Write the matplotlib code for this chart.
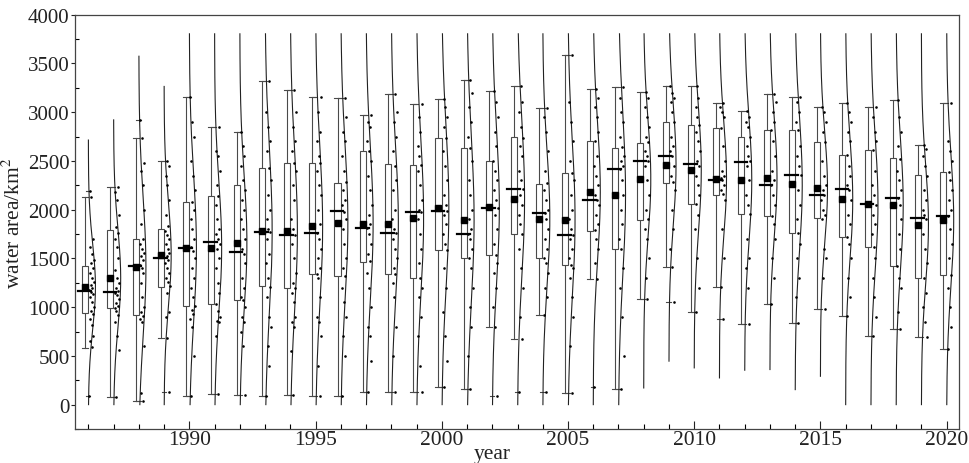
import numpy as np
import matplotlib
matplotlib.use("Agg")
import matplotlib.pyplot as plt
from matplotlib.ticker import MultipleLocator

years = list(range(1986, 2021))

# box statistics
q1 = [938, 996, 920, 1202, 1013, 1030, 1072, 1212, 1192, 1340, 1316, 1467, 1340, 1295, 1587, 1501,
      1536, 1752, 1501, 1432, 1786, 1597, 1897, 2275, 2061, 2154, 1958, 1934, 1762, 1914, 1718,
      1621, 1419, 1298, 1333]
med = [1168, 1158, 1419, 1501, 1604, 1673, 1570, 1769, 1742, 1759, 1982, 1810, 1762, 1976, 1982,
       1752, 2020, 2209, 1965, 1735, 2096, 2422, 2501, 2550, 2467, 2309, 2491, 2257, 2360, 2154,
       2216, 2055, 2123, 1914, 1931]
q3 = [1426, 1793, 1700, 1797, 2079, 2140, 2250, 2429, 2481, 2474, 2278, 2605, 2467, 2457, 2739,
      2629, 2498, 2742, 2268, 2378, 2704, 2635, 2687, 2897, 2869, 2842, 2749, 2818, 2818, 2690,
      2560, 2611, 2525, 2354, 2388]
mean = [1209, 1295, 1408, 1536, 1604, 1611, 1656, 1780, 1780, 1828, 1862, 1855, 1855, 1917, 2017,
        1897, 2024, 2113, 1907, 1897, 2182, 2154, 2312, 2457, 2405, 2312, 2302, 2326, 2261, 2223,
        2106, 2061, 2051, 1845, 1890]
wlo = [584, 75, 41, 687, 92, 109, 102, 85, 102, 85, 85, 127, 127, 127, 181, 161, 800, 670, 917,
       120, 1288, 161, 1082, 1408, 955, 1202, 824, 1030, 841, 979, 910, 704, 773, 697, 566]
whi = [2130, 2233, 2732, 2498, 3151, 2852, 2794, 3323, 3230, 3151, 3144, 2972, 3185, 3086, 3137,
       3333, 3220, 3264, 3048, 3584, 3240, 3257, 3203, 3264, 3271, 3093, 3017, 3185, 3154, 3051,
       3093, 3055, 3127, 2663, 3099]
# extent of the distribution curves
curve_lo = [0] * 22 + [171, 446, 377, 274, 353, 360, 154, 291, 0, 0, 0, 0, 0]
curve_hi = [2714, 2921, 3574, 3264] + [3804] * 31

# individual data points (approximate)
points = [
    [85, 590, 650, 700, 820, 880, 930, 960, 1000, 1050, 1100, 1130, 1160, 1180, 1200, 1230, 1260, 1300, 1350, 1400, 1450, 1480, 1550, 1620, 1700, 2130, 2189],
    [75, 560, 700, 850, 920, 960, 990, 1010, 1040, 1080, 1120, 1150, 1170, 1200, 1250, 1300, 1380, 1500, 1620, 1700, 1760, 1820, 1950, 2100, 2180, 2233],
    [41, 120, 600, 850, 880, 910, 950, 1000, 1100, 1250, 1350, 1400, 1430, 1480, 1520, 1560, 1600, 1650, 1700, 1850, 2000, 2250, 2400, 2480, 2732, 2921],
    [127, 687, 900, 950, 1150, 1220, 1260, 1300, 1350, 1400, 1450, 1480, 1520, 1560, 1600, 1650, 1700, 1740, 1780, 1830, 1950, 2100, 2250, 2350, 2450, 2498],
    [92, 500, 800, 880, 930, 970, 1010, 1100, 1200, 1300, 1400, 1500, 1580, 1620, 1700, 1800, 1900, 2000, 2080, 2200, 2350, 2500, 2750, 2900, 3151],
    [109, 700, 850, 860, 900, 960, 1030, 1150, 1250, 1400, 1500, 1600, 1650, 1700, 1750, 1800, 1900, 2050, 2140, 2250, 2400, 2550, 2600, 2852],
    [102, 600, 750, 850, 900, 1000, 1070, 1100, 1200, 1300, 1450, 1550, 1600, 1700, 1800, 1900, 2000, 2100, 2200, 2300, 2450, 2550, 2650, 2794],
    [85, 400, 600, 800, 900, 1100, 1210, 1300, 1450, 1550, 1700, 1770, 1800, 1900, 2000, 2150, 2300, 2430, 2600, 2700, 2850, 3000, 3323],
    [102, 550, 800, 850, 900, 1050, 1150, 1200, 1250, 1350, 1500, 1650, 1740, 1800, 1900, 2100, 2250, 2400, 2480, 2600, 2700, 2850, 3000, 3230],
    [85, 400, 700, 850, 900, 1100, 1300, 1340, 1400, 1500, 1600, 1700, 1760, 1850, 2000, 2150, 2250, 2400, 2480, 2550, 2700, 2800, 3000, 3151],
    [85, 500, 700, 900, 1050, 1200, 1316, 1400, 1500, 1650, 1800, 1900, 1980, 2050, 2100, 2200, 2280, 2400, 2550, 2700, 2800, 2950, 3144],
    [127, 450, 700, 800, 1000, 1200, 1350, 1470, 1550, 1650, 1750, 1810, 1850, 1950, 2050, 2200, 2350, 2500, 2600, 2700, 2850, 2900, 2972],
    [127, 500, 800, 1100, 1250, 1340, 1400, 1500, 1600, 1700, 1760, 1800, 1900, 2000, 2200, 2300, 2450, 2600, 2750, 2900, 3000, 3185],
    [127, 400, 700, 900, 1100, 1200, 1300, 1450, 1600, 1750, 1900, 1976, 2000, 2100, 2250, 2400, 2460, 2550, 2650, 2800, 2950, 3086],
    [181, 450, 700, 950, 1200, 1400, 1590, 1650, 1750, 1850, 1950, 1990, 2050, 2150, 2300, 2450, 2600, 2740, 2850, 2950, 3050, 3137],
    [161, 500, 800, 1000, 1200, 1400, 1500, 1600, 1700, 1750, 1800, 1900, 2000, 2150, 2300, 2500, 2630, 2750, 2900, 3050, 3200, 3333],
    [85, 800, 1000, 1200, 1350, 1450, 1540, 1650, 1800, 1950, 2020, 2100, 2200, 2300, 2400, 2500, 2650, 2800, 2950, 3100, 3220],
    [127, 670, 900, 1200, 1400, 1600, 1750, 1850, 1950, 2050, 2150, 2210, 2300, 2400, 2550, 2650, 2740, 2850, 3000, 3100, 3264],
    [127, 917, 1100, 1200, 1350, 1450, 1500, 1600, 1700, 1800, 1900, 1965, 2000, 2100, 2200, 2270, 2400, 2600, 2800, 2950, 3048],
    [120, 600, 900, 1100, 1300, 1400, 1430, 1500, 1600, 1700, 1735, 1800, 1900, 2000, 2150, 2300, 2380, 2500, 2700, 2900, 3100, 3584],
    [181, 1288, 1450, 1600, 1700, 1790, 1850, 1950, 2050, 2100, 2150, 2250, 2350, 2450, 2550, 2700, 2800, 2950, 3050, 3150, 3240],
    [161, 500, 900, 1200, 1400, 1600, 1700, 1850, 2000, 2150, 2300, 2420, 2450, 2500, 2550, 2640, 2750, 2900, 3000, 3150, 3257],
    [1082, 1300, 1500, 1700, 1800, 1900, 2000, 2150, 2300, 2450, 2500, 2550, 2600, 2690, 2750, 2850, 2950, 3050, 3150, 3203],
    [1048, 1408, 1600, 1800, 2000, 2200, 2280, 2350, 2450, 2550, 2600, 2650, 2750, 2900, 3000, 3100, 3150, 3200, 3264],
    [955, 1200, 1500, 1800, 1950, 2060, 2150, 2250, 2350, 2450, 2500, 2600, 2700, 2800, 2870, 2950, 3050, 3150, 3271],
    [876, 1202, 1500, 1800, 2100, 2160, 2200, 2250, 2300, 2320, 2350, 2400, 2500, 2650, 2840, 2950, 3000, 3050, 3093],
    [824, 1200, 1400, 1500, 1700, 1960, 2050, 2150, 2300, 2450, 2500, 2550, 2650, 2750, 2850, 2900, 2950, 3017],
    [1030, 1300, 1500, 1700, 1850, 1940, 2050, 2150, 2250, 2300, 2400, 2550, 2700, 2820, 2900, 3000, 3100, 3185],
    [841, 1100, 1300, 1500, 1650, 1760, 1900, 2050, 2200, 2360, 2450, 2550, 2650, 2820, 2900, 3000, 3100, 3154],
    [979, 1300, 1500, 1600, 1900, 1950, 2000, 2100, 2150, 2200, 2250, 2350, 2500, 2690, 2800, 2900, 3000, 3051],
    [910, 1100, 1300, 1500, 1650, 1720, 1850, 1950, 2100, 2200, 2250, 2350, 2450, 2560, 2700, 2800, 2900, 3000, 3093],
    [704, 900, 1100, 1300, 1500, 1620, 1750, 1850, 1950, 2050, 2150, 2250, 2400, 2610, 2700, 2800, 2950, 3055],
    [773, 950, 1200, 1300, 1420, 1600, 1750, 1900, 2050, 2120, 2200, 2300, 2400, 2520, 2650, 2800, 2950, 3127],
    [697, 850, 1000, 1150, 1300, 1450, 1600, 1750, 1900, 1950, 2000, 2100, 2200, 2350, 2450, 2550, 2620, 2663],
    [566, 800, 1000, 1200, 1330, 1500, 1650, 1800, 1930, 2000, 2100, 2200, 2300, 2390, 2500, 2600, 2700, 3099],
]

plt.rcParams['font.family'] = ['Liberation Serif', 'DejaVu Serif']
plt.rcParams['mathtext.fontset'] = 'stix'

fig = plt.figure(figsize=(9.70, 4.64), dpi=100)
ax = fig.add_axes([75 / 970, 1 - 430 / 464, 884 / 970, (430 - 15.7) / 464])

lc = '#4a4a4a'
bw = 0.24          # box width (years)
bc_off = -0.13     # box centre offset
vw = 0.28          # curve peak width

for i, yr in enumerate(years):
    bc = yr + bc_off
    # whiskers
    ax.plot([bc, bc], [wlo[i], q1[i]], color=lc, lw=0.8, zorder=2)
    ax.plot([bc, bc], [q3[i], whi[i]], color=lc, lw=0.8, zorder=2)
    ax.plot([bc - bw / 2, bc + bw / 2], [wlo[i], wlo[i]], color=lc, lw=0.8, zorder=2)
    ax.plot([bc - bw / 2, bc + bw / 2], [whi[i], whi[i]], color=lc, lw=0.8, zorder=2)
    # box
    ax.add_patch(plt.Rectangle((bc - bw / 2, q1[i]), bw, q3[i] - q1[i],
                               facecolor='white', edgecolor=lc, lw=0.8, zorder=3))
    # median
    ax.plot([bc - 0.27, bc + 0.23], [med[i], med[i]], color='black', lw=1.6, zorder=5)
    # mean
    ax.plot([bc], [mean[i]], marker='s', color='black', ms=5, zorder=6)
    # min / max markers
    pts = np.array(points[i], dtype=float)
    ax.plot([bc + 0.03, bc + 0.2], [pts.min()] * 2, color=lc, lw=0.8, zorder=4)
    ax.plot([bc + 0.03, bc + 0.2], [pts.max()] * 2, color=lc, lw=0.8, zorder=4)
    # data points
    offs = 0.035 + 0.19 * ((np.arange(len(pts)) * 0.6180339 + 0.3 * i) % 1.0)
    ax.scatter(yr + offs, pts, s=3.5, color='black', linewidths=0, zorder=7)
    # normal distribution curve
    sd = pts.std()
    yy = np.linspace(curve_lo[i], curve_hi[i], 200)
    xx = yr + vw * np.exp(-0.5 * ((yy - mean[i]) / sd) ** 2)
    ax.plot(xx, yy, color='#222222', lw=0.8, zorder=4)

ax.set_xlim(1985.47, 2020.49)
ax.set_ylim(-250, 4000)
ax.xaxis.set_major_locator(MultipleLocator(5))
ax.xaxis.set_minor_locator(MultipleLocator(1))
ax.yaxis.set_major_locator(MultipleLocator(500))
ax.yaxis.set_minor_locator(MultipleLocator(250))
ax.set_xticks([1990, 1995, 2000, 2005, 2010, 2015, 2020])
ax.tick_params(axis='x', which='major', direction='in', length=6, width=0.8, labelsize=15.5, pad=1, colors='#222222')
ax.tick_params(axis='x', which='minor', direction='in', length=3.5, width=0.8)
ax.tick_params(axis='y', which='major', direction='out', length=3, width=0.8, labelsize=15, pad=1, colors='#222222')
ax.tick_params(axis='y', which='minor', direction='in', length=3, width=0.8)
for s in ax.spines.values():
    s.set_color('#444444')
    s.set_linewidth(0.9)

ax.set_xlabel('year', fontsize=15.5, color='#222222')
ax.xaxis.set_label_coords(0.472, -0.035)
ax.set_ylabel('water area/km$^2$', fontsize=15.5, labelpad=2, color='#222222')

fig.savefig('out.png', dpi=100)
